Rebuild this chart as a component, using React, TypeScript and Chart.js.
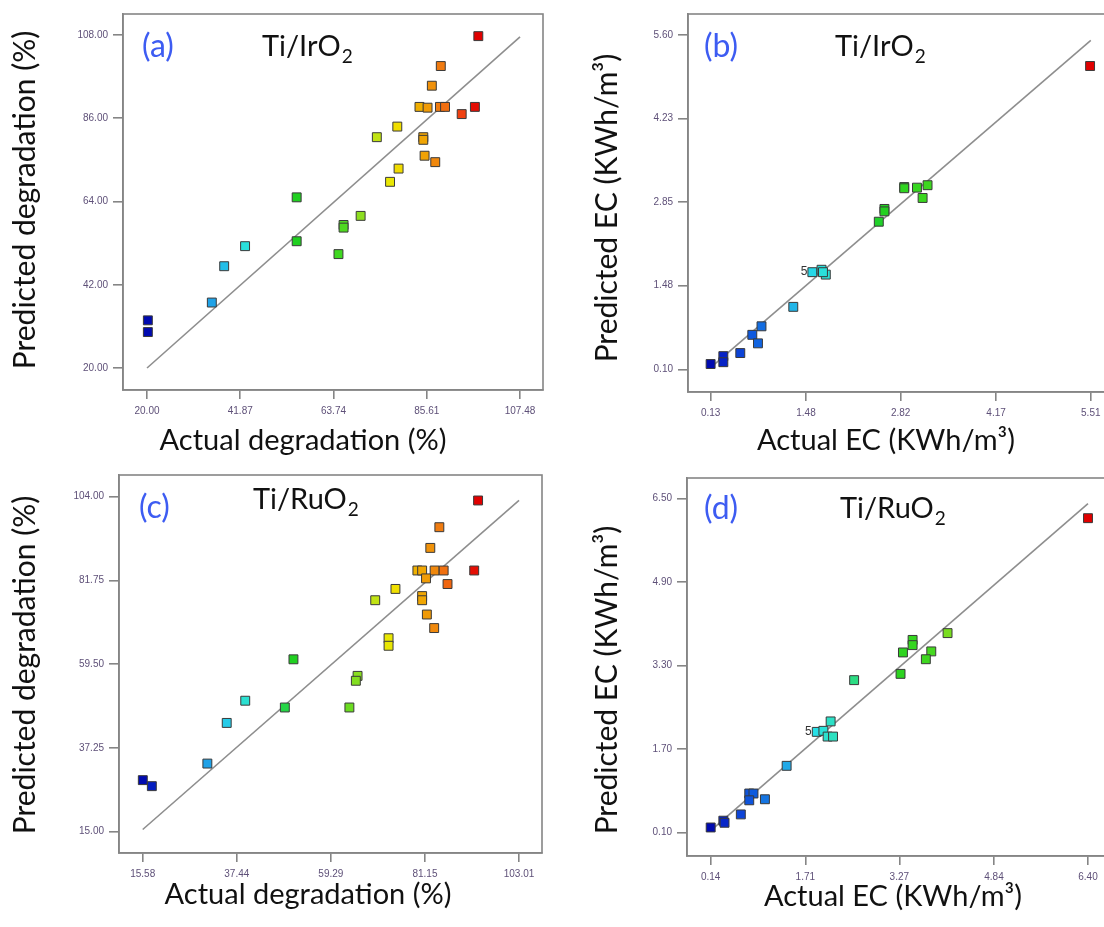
import React, { useEffect, useRef } from 'react';
import { Chart, registerables } from 'chart.js';

Chart.register(...registerables);

// ---------- Panel (a): Ti/IrO2 degradation ----------
const aActual = [97.7, 88.9, 86.8, 83.9, 85.8, 88.7, 89.9, 93.8, 96.9, 78.7, 73.9, 84.8, 84.8, 85.1, 87.6, 79.0, 77.0, 55.1, 70.1, 66.1, 66.1, 55.1, 64.9, 43.0, 38.1, 35.2, 20.2, 20.2];
const aPredicted = [107.7, 99.8, 94.6, 89.0, 88.8, 89.0, 89.0, 87.1, 89.0, 83.8, 81.0, 81.0, 80.3, 76.1, 74.4, 72.7, 69.2, 65.1, 60.2, 57.8, 57.1, 53.5, 50.1, 52.2, 46.9, 37.3, 32.6, 29.5];
const aXTicks = [20.0, 41.87, 63.74, 85.61, 107.48];
const aYTicks = [20.0, 42.0, 64.0, 86.0, 108.0];
const aLine = [20.0, 107.48];

// ---------- Panel (b): Ti/IrO2 energy consumption ----------
const bActual = [5.50, 2.87, 2.87, 3.05, 3.20, 3.13, 2.59, 2.59, 2.51, 1.57, 1.70, 1.76, 1.72, 1.30, 0.85, 0.72, 0.80, 0.55, 0.31, 0.31, 0.13];
const bPredicted = [5.09, 3.10, 3.08, 3.09, 3.13, 2.92, 2.74, 2.70, 2.53, 1.70, 1.74, 1.66, 1.70, 1.13, 0.81, 0.67, 0.53, 0.37, 0.32, 0.22, 0.19];
const bXTicks = [0.13, 1.48, 2.82, 4.17, 5.51];
const bYTicks = [0.10, 1.48, 2.85, 4.23, 5.60];
const bLine = [0.13, 5.51];
const bReplicate = [1.57, 1.70];

// ---------- Panel (c): Ti/RuO2 degradation ----------
const cActual = [93.5, 84.5, 82.4, 79.4, 80.5, 83.4, 85.5, 81.4, 92.6, 86.4, 74.3, 69.6, 80.5, 80.5, 81.6, 83.3, 72.7, 72.7, 50.6, 65.5, 65.1, 48.6, 63.6, 39.4, 35.1, 30.6, 15.6, 17.7];
const cPredicted = [103.0, 95.9, 90.4, 84.4, 84.4, 84.4, 84.4, 82.3, 84.4, 80.8, 79.5, 76.5, 77.6, 76.5, 72.7, 69.1, 66.4, 64.4, 60.8, 56.4, 55.1, 48.0, 48.0, 49.8, 43.9, 33.1, 28.7, 27.1];
const cXTicks = [15.58, 37.44, 59.29, 81.15, 103.01];
const cYTicks = [15.0, 37.25, 59.5, 81.75, 104.0];
const cLine = [15.58, 103.01];

// ---------- Panel (d): Ti/RuO2 energy consumption ----------
const dActual = [6.40, 4.07, 3.49, 3.49, 3.33, 3.80, 3.71, 3.29, 2.52, 2.13, 1.90, 2.01, 2.08, 2.17, 1.40, 0.78, 0.85, 0.78, 1.04, 0.64, 0.35, 0.37, 0.14];
const dPredicted = [6.12, 3.92, 3.79, 3.69, 3.55, 3.57, 3.42, 3.14, 3.02, 2.23, 2.03, 2.05, 1.94, 1.94, 1.38, 0.85, 0.85, 0.72, 0.74, 0.45, 0.33, 0.29, 0.20];
const dXTicks = [0.14, 1.71, 3.27, 4.84, 6.40];
const dYTicks = [0.10, 1.70, 3.30, 4.90, 6.50];
const dLine = [0.14, 6.40];
const dReplicate = [1.90, 2.03];

const TITLE_FONT = 'Lato, "Open Sans", sans-serif';
const TICK_FONT = '"Liberation Sans", Arial, sans-serif';

// Design-Expert style colour ramp (blue -> cyan -> green -> yellow -> orange -> red)
const RAMP: [number, number[]][] = [
  [0.0, [0, 10, 176]],
  [0.05, [10, 48, 208]],
  [0.12, [16, 96, 224]],
  [0.2, [32, 168, 232]],
  [0.28, [40, 224, 232]],
  [0.36, [48, 224, 160]],
  [0.45, [32, 208, 32]],
  [0.58, [64, 216, 32]],
  [0.66, [160, 224, 32]],
  [0.74, [240, 232, 0]],
  [0.82, [240, 176, 0]],
  [0.88, [240, 128, 16]],
  [0.95, [240, 64, 16]],
  [1.0, [224, 0, 0]],
];

function rampColor(t: number): string {
  const v = Math.max(0, Math.min(1, t));
  for (let i = 1; i < RAMP.length; i++) {
    if (v <= RAMP[i][0]) {
      const [t0, c0] = RAMP[i - 1];
      const [t1, c1] = RAMP[i];
      const f = (v - t0) / (t1 - t0);
      const c = c0.map((k, j) => Math.round(k + (c1[j] - k) * f));
      return `rgb(${c[0]},${c[1]},${c[2]})`;
    }
  }
  const c = RAMP[RAMP.length - 1][1];
  return `rgb(${c[0]},${c[1]},${c[2]})`;
}

type Panel = {
  key: string;
  left: number;
  top: number;
  width: number;
  height: number;
  area: { l: number; t: number; r: number; b: number };
  xRange: [number, number];
  yRange: [number, number];
  actual: number[];
  predicted: number[];
  xTicks: number[];
  yTicks: number[];
  line: number[];
  label: string;
  labelPos: [number, number];
  material: string;
  matPos: [number, number];
  xTitle: string;
  xTitlePos: [number, number];
  yTitle: string;
  yTitlePos: [number, number];
  replicate: number[] | null;
};

const PANELS: Panel[] = [
  {
    key: 'a', left: 0, top: 0, width: 560, height: 463,
    area: { l: 123, t: 14, r: 543, b: 390 },
    xRange: [14.37, 112.87], yRange: [14.19, 113.55],
    actual: aActual, predicted: aPredicted, xTicks: aXTicks, yTicks: aYTicks, line: aLine,
    label: '(a)', labelPos: [142, 57], material: 'Ti/IrO', matPos: [262, 56],
    xTitle: 'Actual degradation (%)', xTitlePos: [303, 450],
    yTitle: 'Predicted degradation (%)', yTitlePos: [25, 200],
    replicate: null,
  },
  {
    key: 'b', left: 560, top: 0, width: 560, height: 463,
    area: { l: 688, t: 14, r: 1113, b: 392 },
    xRange: [-0.19, 5.82], yRange: [-0.27, 5.945],
    actual: bActual, predicted: bPredicted, xTicks: bXTicks, yTicks: bYTicks, line: bLine,
    label: '(b)', labelPos: [704, 57], material: 'Ti/IrO', matPos: [835, 56],
    xTitle: 'Actual EC (KWh/m\u00B3)', xTitlePos: [886, 450],
    yTitle: 'Predicted EC (KWh/m\u00B3)', yTitlePos: [607, 208],
    replicate: bReplicate,
  },
  {
    key: 'c', left: 0, top: 463, width: 560, height: 464,
    area: { l: 119, t: 475, r: 542, b: 853 },
    xRange: [10.07, 108.35], yRange: [9.34, 109.77],
    actual: cActual, predicted: cPredicted, xTicks: cXTicks, yTicks: cYTicks, line: cLine,
    label: '(c)', labelPos: [139, 518], material: 'Ti/RuO', matPos: [253, 509],
    xTitle: 'Actual degradation (%)', xTitlePos: [308, 904],
    yTitle: 'Predicted degradation (%)', yTitlePos: [25, 665],
    replicate: null,
  },
  {
    key: 'd', left: 560, top: 463, width: 560, height: 464,
    area: { l: 687, t: 478, r: 1113, b: 856 },
    xRange: [-0.253, 6.81], yRange: [-0.346, 6.889],
    actual: dActual, predicted: dPredicted, xTicks: dXTicks, yTicks: dYTicks, line: dLine,
    label: '(d)', labelPos: [704, 519], material: 'Ti/RuO', matPos: [840, 518],
    xTitle: 'Actual EC (KWh/m\u00B3)', xTitlePos: [893, 906],
    yTitle: 'Predicted EC (KWh/m\u00B3)', yTitlePos: [607, 680],
    replicate: dReplicate,
  },
];

const AXIS_COLOR = '#858585';
const TICK_COLOR = '#5e5078';

function makeDecorPlugin(p: Panel) {
  return {
    id: 'decor_' + p.key,
    afterDraw(chart: any) {
      const ctx = chart.ctx as CanvasRenderingContext2D;
      const ca = chart.chartArea;
      ctx.save();
      // frame
      ctx.strokeStyle = AXIS_COLOR;
      ctx.lineWidth = 1.6;
      ctx.strokeRect(ca.left, ca.top, ca.right - ca.left, ca.bottom - ca.top);

      // replicate label "5"
      if (p.replicate) {
        const px = chart.scales.x.getPixelForValue(p.replicate[0]);
        const py = chart.scales.y.getPixelForValue(p.replicate[1]);
        ctx.fillStyle = '#333';
        ctx.font = `12px ${TICK_FONT}`;
        ctx.textAlign = 'right';
        ctx.textBaseline = 'middle';
        ctx.fillText('5', px - 5, py);
      }

      // panel letter
      ctx.textAlign = 'left';
      ctx.textBaseline = 'alphabetic';
      ctx.fillStyle = '#3d5cf2';
      ctx.font = `32px ${TITLE_FONT}`;
      ctx.fillText(p.label, p.labelPos[0] - p.left, p.labelPos[1] - p.top);

      // material with subscript 2
      ctx.fillStyle = '#111111';
      ctx.font = `29px ${TITLE_FONT}`;
      const mx = p.matPos[0] - p.left;
      const my = p.matPos[1] - p.top;
      ctx.fillText(p.material, mx, my);
      const w = ctx.measureText(p.material).width;
      ctx.font = `19px ${TITLE_FONT}`;
      ctx.fillText('2', mx + w + 1, my + 7);

      // x title
      ctx.font = `29px ${TITLE_FONT}`;
      ctx.textAlign = 'center';
      ctx.fillText(p.xTitle, p.xTitlePos[0] - p.left, p.xTitlePos[1] - p.top);

      // y title (rotated)
      ctx.font = `30px ${TITLE_FONT}`;
      ctx.translate(p.yTitlePos[0] - p.left, p.yTitlePos[1] - p.top);
      ctx.rotate(-Math.PI / 2);
      ctx.textBaseline = 'middle';
      ctx.fillText(p.yTitle, 0, 0);
      ctx.restore();
    },
  };
}

function PanelChart({ p }: { p: Panel }) {
  const ref = useRef<HTMLCanvasElement | null>(null);
  useEffect(() => {
    if (!ref.current) return;
    const minA = Math.min(...p.actual);
    const maxA = Math.max(...p.actual);
    const colors = p.actual.map((v) => rampColor((v - minA) / (maxA - minA)));
    const chart = new Chart(ref.current, {
      type: 'scatter',
      data: {
        datasets: [
          {
            data: p.actual.map((x, i) => ({ x, y: p.predicted[i] })),
            pointStyle: 'rect',
            pointRadius: 6.3,
            pointHoverRadius: 6.3,
            backgroundColor: colors,
            borderColor: '#3a3a3a',
            borderWidth: 1,
            order: 0,
          } as any,
          {
            data: [
              { x: p.line[0], y: p.line[0] },
              { x: p.line[1], y: p.line[1] },
            ],
            showLine: true,
            borderColor: '#8e8e8e',
            borderWidth: 1.6,
            pointRadius: 0,
            pointHoverRadius: 0,
            fill: false,
            order: 1,
          } as any,
        ],
      },
      options: {
        animation: false,
        responsive: false,
        maintainAspectRatio: false,
        events: [],
        layout: {
          padding: {
            left: 0,
            top: p.area.t - p.top,
            right: p.left + p.width - p.area.r,
            bottom: 0,
          },
        },
        plugins: {
          legend: { display: false },
          tooltip: { enabled: false },
        },
        scales: {
          x: {
            type: 'linear',
            min: p.xRange[0],
            max: p.xRange[1],
            afterBuildTicks: (s: any) => {
              s.ticks = p.xTicks.map((v) => ({ value: v }));
            },
            afterFit: (s: any) => {
              s.height = p.top + p.height - p.area.b;
            },
            ticks: {
              autoSkip: false,
              maxRotation: 0,
              padding: 6,
              color: TICK_COLOR,
              font: { family: TICK_FONT, size: 10 },
              callback: (v: any) => Number(v).toFixed(2),
            },
            grid: {
              drawOnChartArea: false,
              drawTicks: true,
              tickLength: 9,
              color: AXIS_COLOR,
              lineWidth: 1.6,
            },
            border: { display: true, color: AXIS_COLOR, width: 1.6 },
          },
          y: {
            type: 'linear',
            min: p.yRange[0],
            max: p.yRange[1],
            afterBuildTicks: (s: any) => {
              s.ticks = p.yTicks.map((v) => ({ value: v }));
            },
            afterFit: (s: any) => {
              s.width = p.area.l - p.left;
            },
            ticks: {
              autoSkip: false,
              padding: 5,
              color: TICK_COLOR,
              font: { family: TICK_FONT, size: 10 },
              callback: (v: any) => Number(v).toFixed(2),
            },
            grid: {
              drawOnChartArea: false,
              drawTicks: true,
              tickLength: 10,
              color: AXIS_COLOR,
              lineWidth: 1.6,
            },
            border: { display: true, color: AXIS_COLOR, width: 1.6 },
          },
        },
      } as any,
      plugins: [makeDecorPlugin(p)],
    });
    return () => chart.destroy();
  }, [p]);
  return (
    <canvas
      ref={ref}
      width={p.width}
      height={p.height}
      style={{ position: 'absolute', left: p.left, top: p.top, width: p.width, height: p.height }}
    />
  );
}

export default function App() {
  return (
    <div
      style={{
        position: 'fixed',
        left: 0,
        top: 0,
        width: 1104,
        height: 927,
        overflow: 'hidden',
        background: '#ffffff',
      }}
    >
      {PANELS.map((p) => (
        <PanelChart key={p.key} p={p} />
      ))}
    </div>
  );
}
